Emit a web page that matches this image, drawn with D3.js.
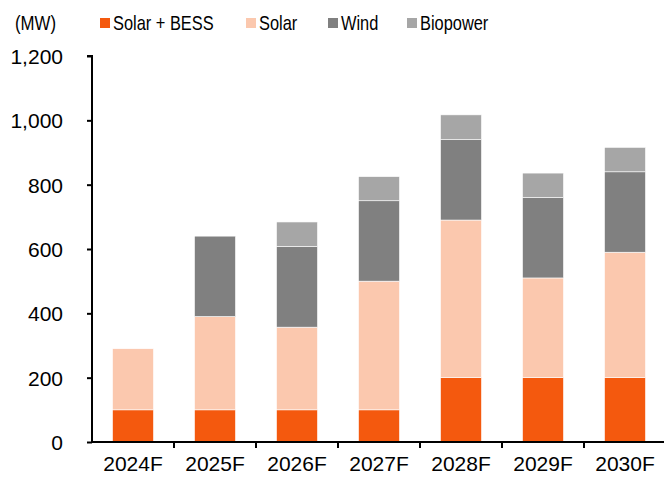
<!DOCTYPE html>
<html>
<head>
<meta charset="utf-8">
<script src="https://cdn.jsdelivr.net/npm/d3@7"></script>
<style>
body { margin: 0; background: #fff; }
text { font-family: "Liberation Sans", Arial, sans-serif; fill: #000; }
</style>
</head>
<body>
<script>
let width = 664, height = 482;

let years = ["2024F", "2025F", "2026F", "2027F", "2028F", "2029F", "2030F"];
let solarBess = [100, 100, 100, 100, 200, 200, 200];
let solar = [190, 290, 257, 400, 490, 310, 390];
let wind = [0, 250, 251, 250, 250, 250, 250];
let biopower = [0, 0, 76, 75, 77, 76, 76];
let seriesNames = ["Solar + BESS", "Solar", "Wind", "Biopower"];
let colors = ["#F4590E", "#FBC8AE", "#808080", "#A6A6A6"];
let yTicks = [0, 200, 400, 600, 800, 1000, 1200];

let rows = years.map((y, i) => ({
    year: y,
    "Solar + BESS": solarBess[i],
    "Solar": solar[i],
    "Wind": wind[i],
    "Biopower": biopower[i]
}));

let svg = d3.select("body").append("svg")
    .attr("width", width)
    .attr("height", height);

let x = d3.scaleBand().domain(years).range([92, 666])
    .paddingInner(0.5).paddingOuter(0.25);
let y = d3.scaleLinear().domain([0, 1200]).range([442, 56]);
let color = d3.scaleOrdinal().domain(seriesNames).range(colors);

let stacked = d3.stack().keys(seriesNames)(rows);

svg.append("g").selectAll("g")
    .data(stacked)
    .enter().append("g")
    .attr("fill", d => color(d.key))
    .selectAll("rect")
    .data(d => d.filter(p => p[1] - p[0] > 0))
    .enter().append("rect")
    .attr("x", d => x(d.data.year))
    .attr("width", x.bandwidth())
    .attr("y", d => y(d[1]))
    .attr("height", d => y(d[0]) - y(d[1]))
    .attr("stroke", "#fff")
    .attr("stroke-width", 0.6);

// y axis
let yAxis = svg.append("g")
    .attr("transform", "translate(92,0)")
    .call(d3.axisLeft(y).tickValues(yTicks).tickSize(5).tickPadding(24)
        .tickFormat(d3.format(",")));
yAxis.select(".domain").attr("d", "M-5,56H0V442").attr("stroke", "#000").attr("stroke-width", 2).attr("fill", "none");
yAxis.selectAll(".tick line").attr("stroke", "#000").attr("stroke-width", 2);
yAxis.selectAll(".tick text").attr("font-size", 21).attr("dy", "0.35em")
    .style("font-family", "'Liberation Sans', Arial, sans-serif");

// x axis
let xAxis = svg.append("g")
    .attr("transform", "translate(0,442)")
    .call(d3.axisBottom(x).tickSize(0).tickPadding(14));
xAxis.select(".domain").attr("d", "M92,0H666").attr("stroke", "#000").attr("stroke-width", 2);
xAxis.selectAll(".tick text").attr("font-size", 21)
    .style("font-family", "'Liberation Sans', Arial, sans-serif");
xAxis.selectAll(".boundary")
    .data(years.slice(1))
    .enter().append("line")
    .attr("class", "boundary")
    .attr("x1", d => x(d) - x.step() * 0.25)
    .attr("x2", d => x(d) - x.step() * 0.25)
    .attr("y1", 0).attr("y2", 6)
    .attr("stroke", "#000").attr("stroke-width", 2);

// unit label
svg.append("text")
    .attr("x", 0).attr("y", 30)
    .attr("font-size", 20.5)
    .attr("transform", "translate(15,0) scale(0.82,1)")
    .text("(MW)");

// legend
let legendX = [100, 246, 328, 407];
let legend = svg.append("g").selectAll("g")
    .data(seriesNames)
    .enter().append("g")
    .attr("transform", (d, i) => "translate(" + legendX[i] + ",0)");
legend.append("rect")
    .attr("x", 0).attr("y", 18)
    .attr("width", 10).attr("height", 10)
    .attr("fill", d => color(d));
legend.append("text")
    .attr("x", 0).attr("y", 30)
    .attr("font-size", 20.5)
    .attr("transform", "translate(13,0) scale(0.8,1)")
    .text(d => d);
</script>
</body>
</html>
